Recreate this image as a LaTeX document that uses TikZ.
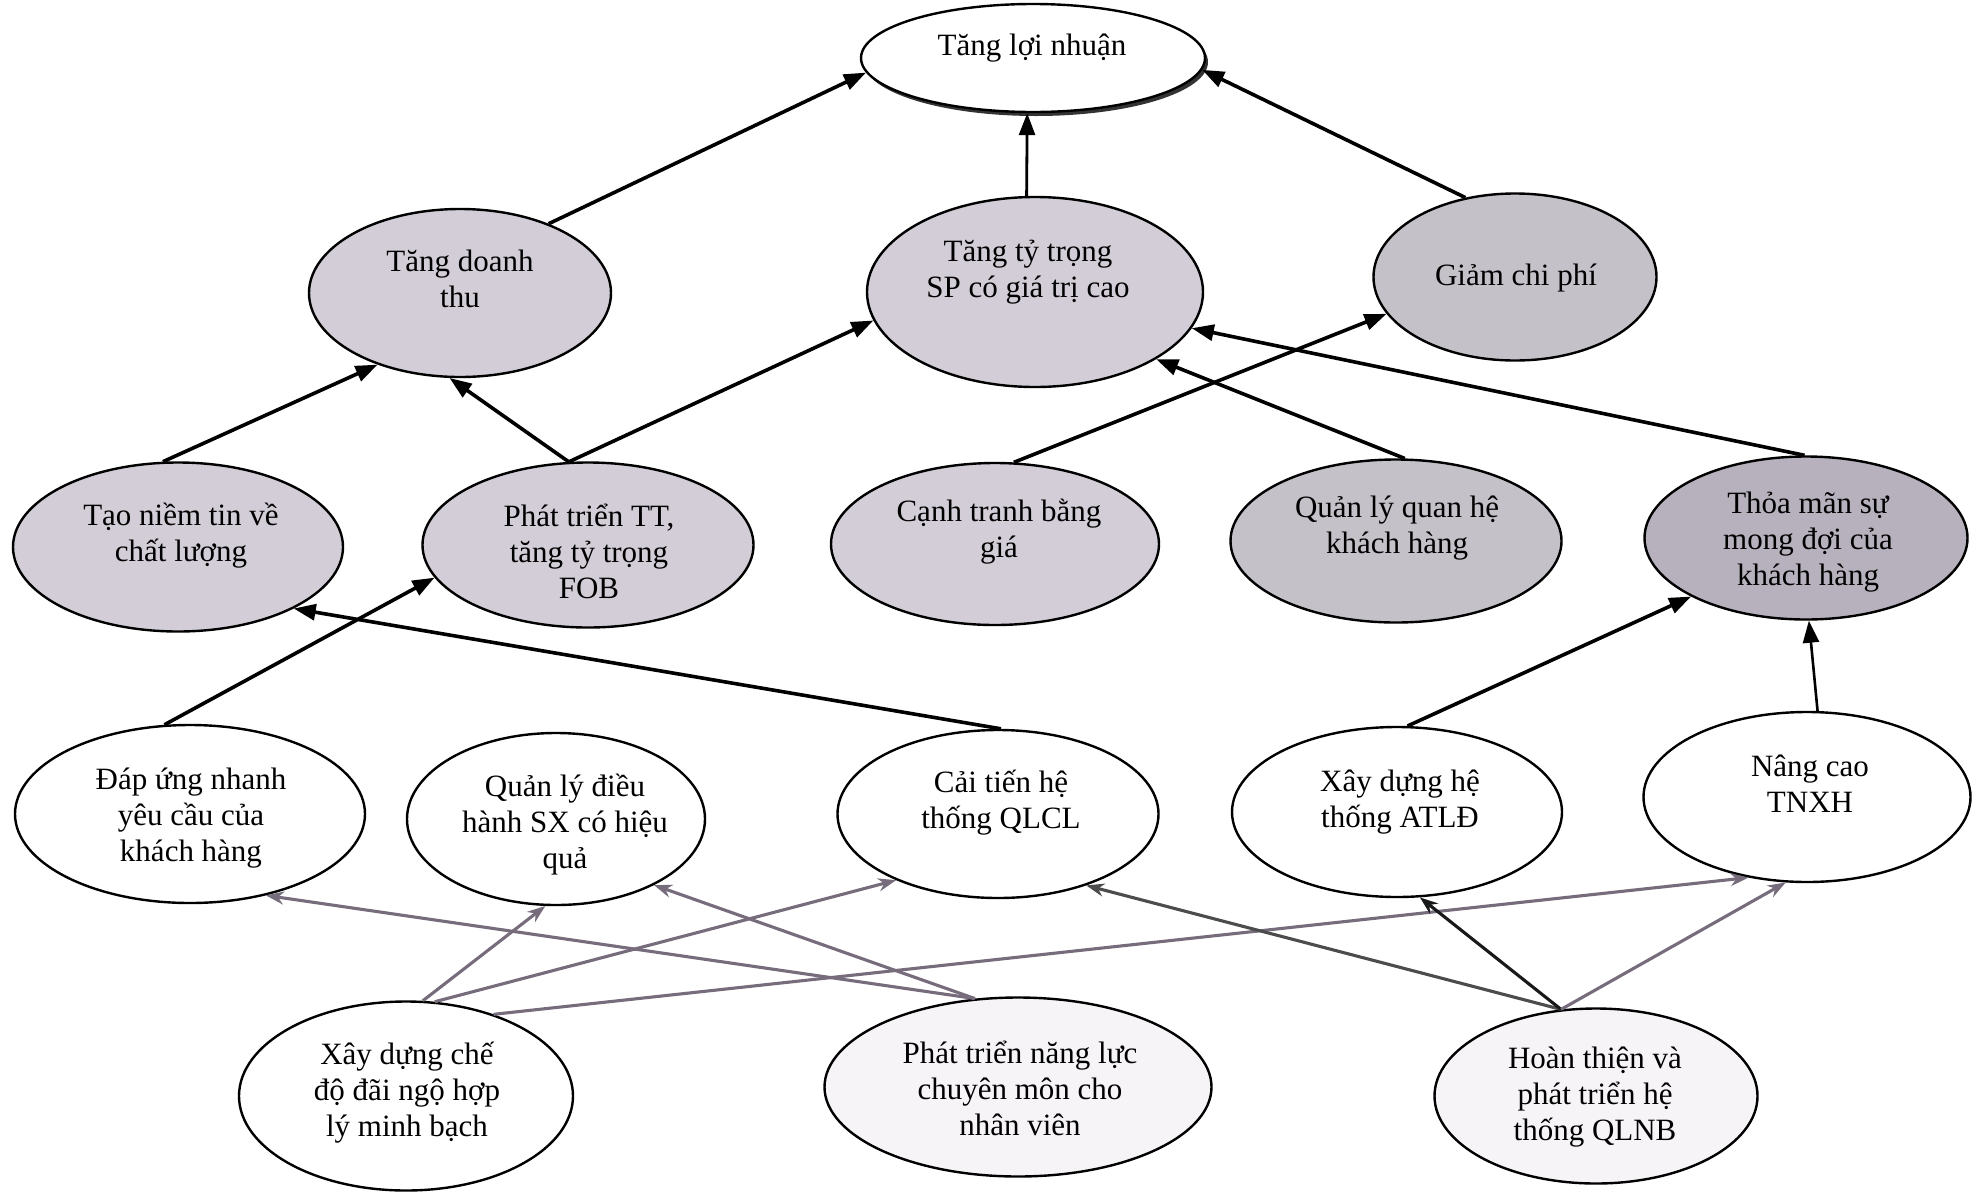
\documentclass[tikz,border=0pt]{standalone}
\usepackage{fontspec}
\setmainfont{Liberation Serif}
\usetikzlibrary{shapes.geometric,arrows.meta}
\definecolor{shadeA}{RGB}{210,205,214}
\definecolor{shadeB}{RGB}{197,193,201}
\definecolor{shadeC}{RGB}{183,177,189}
\definecolor{paleA}{RGB}{246,244,247}
\definecolor{grayline}{RGB}{118,108,124}
\definecolor{graytip}{RGB}{185,180,190}
\begin{document}
\begin{tikzpicture}[x=1pt,y=-1pt,
  oval/.style={ellipse,draw=black,line width=2.4pt,inner sep=0pt},
  lbl/.style={align=center,font=\fontsize{31}{36}\selectfont,inner sep=0pt},
  arr/.style={line width=3.6pt,-{Triangle[length=22pt,width=16pt]}},
  garr/.style={line width=3.1pt,draw=grayline,-{Stealth[length=18pt,width=13pt,fill=graytip]}}]
\useasboundingbox (0,0) rectangle (1976,1192);
\fill[white] (0,0) rectangle (1976,1192);

% top
\fill[black!80] (1036,62) ellipse [x radius=172pt, y radius=54pt];
\node[oval,fill=white,minimum width=344pt,minimum height=108pt] (ln) at (1033,58) {};
\node[lbl] (ln-t) at (1032,48) {Tăng lợi nhuận};

% row 1
\node[oval,fill=shadeA,minimum width=302pt,minimum height=168pt] (dt) at (460,293) {};
\node[lbl] (dt-t) at (460,279) {Tăng doanh\\thu};
\node[oval,fill=shadeA,minimum width=336pt,minimum height=190pt] (tt) at (1035,292) {};
\node[lbl] (tt-t) at (1028,272) {Tăng tỷ trọng\\SP có giá trị cao};
\node[oval,fill=shadeB,minimum width=283pt,minimum height=167pt] (gcp) at (1515,277) {};
\node[lbl] (gcp-t) at (1516,278) {Giảm chi phí};

% row 2
\node[oval,fill=shadeA,minimum width=330pt,minimum height=169pt] (tnt) at (178,547) {};
\node[lbl] (tnt-t) at (181,536) {Tạo niềm tin về\\chất lượng};
\node[oval,fill=shadeA,minimum width=331pt,minimum height=165pt] (pttt) at (588,545) {};
\node[lbl] (pttt-t) at (589,551) {Phát triển TT,\\tăng tỷ trọng\\FOB};
\node[oval,fill=shadeA,minimum width=328pt,minimum height=162pt] (ct) at (995,544) {};
\node[lbl] (ct-t) at (999,532) {Cạnh tranh bằng\\giá};
\node[oval,fill=shadeB,minimum width=331pt,minimum height=163pt] (qlqh) at (1396,541) {};
\node[lbl] (qlqh-t) at (1397,528) {Quản lý quan hệ\\khách hàng};
\node[oval,fill=shadeC,minimum width=323pt,minimum height=163pt] (tm) at (1806,538) {};
\node[lbl] (tm-t) at (1808,542) {Thỏa mãn sự\\mong đợi của\\khách hàng};

% row 3
\node[oval,fill=white,minimum width=350pt,minimum height=178pt] (du) at (190,814) {};
\node[lbl] (du-t) at (191,818) {Đáp ứng nhanh\\yêu cầu của\\khách hàng};
\node[oval,fill=white,minimum width=298pt,minimum height=172pt] (ql) at (556,819) {};
\node[lbl] (ql-t) at (565,825) {Quản lý điều\\hành SX có hiệu\\quả};
\node[oval,fill=white,minimum width=321pt,minimum height=168pt] (cti) at (998,814) {};
\node[lbl] (cti-t) at (1001,803) {Cải tiến hệ\\thống QLCL};
\node[oval,fill=white,minimum width=330pt,minimum height=170pt] (atld) at (1397,812) {};
\node[lbl] (atld-t) at (1400,802) {Xây dựng hệ\\thống ATLĐ};
\node[oval,fill=white,minimum width=327pt,minimum height=170pt] (nc) at (1807,797) {};
\node[lbl] (nc-t) at (1810,784) {Nâng cao\\TNXH};

% row 4
\node[oval,fill=white,minimum width=334pt,minimum height=189pt] (xd) at (406,1096) {};
\node[lbl] (xd-t) at (407,1093) {Xây dựng chế\\độ đãi ngộ hợp\\lý minh bạch};
\node[oval,fill=paleA,minimum width=387pt,minimum height=179pt] (ptnl) at (1018,1087) {};
\node[lbl] (ptnl-t) at (1020,1088) {Phát triển năng lực\\chuyên môn cho\\nhân viên};
\node[oval,fill=paleA,minimum width=323pt,minimum height=175pt] (ht) at (1596,1096) {};
\node[lbl] (ht-t) at (1595,1097) {Hoàn thiện và\\phát triển hệ\\thống QLNB};

% black arrows
\draw[arr] (dt.38.7) -- (ln.185);
\draw[arr,line width=2.8pt] (tt.95) -- (ln.264);
\draw[arr] (gcp.122) -- (ln.356);
\draw[arr] (tnt.100) -- (dt.221);
\draw[arr] (pttt.103) -- (dt.263);
\draw[arr] (pttt.103) -- (tt.190);
\draw[arr] (ct.77) -- (gcp.196);
\draw[arr] (qlqh.84) -- (tt.331);
\draw[arr] (tm.91) -- (tt.347);
\draw[arr] (du.106) -- (pttt.192);
\draw[arr] (cti.88) -- (tnt.332);
\draw[arr] (atld.83) -- (tm.207);
\draw[arr,line width=2.6pt] (nc.83) -- (tm.272);

% gray arrows
\draw[garr] (xd.80) -- (ql.263);
\draw[garr] (xd.73) -- (cti.213.7);
\draw[garr] (xd.43) -- (nc.234.8);
\draw[garr] (ptnl.116.3) -- (du.313.5);
\draw[garr] (ptnl.116.3) -- (ql.326.6);
\draw[garr,draw=black!70] (ht.112.6) -- (cti.321);
\draw[garr,draw=black!90] (ht.112.6) -- (atld.285);
\draw[garr] (ht.112.6) -- (nc.256.6);
\end{tikzpicture}
\end{document}
